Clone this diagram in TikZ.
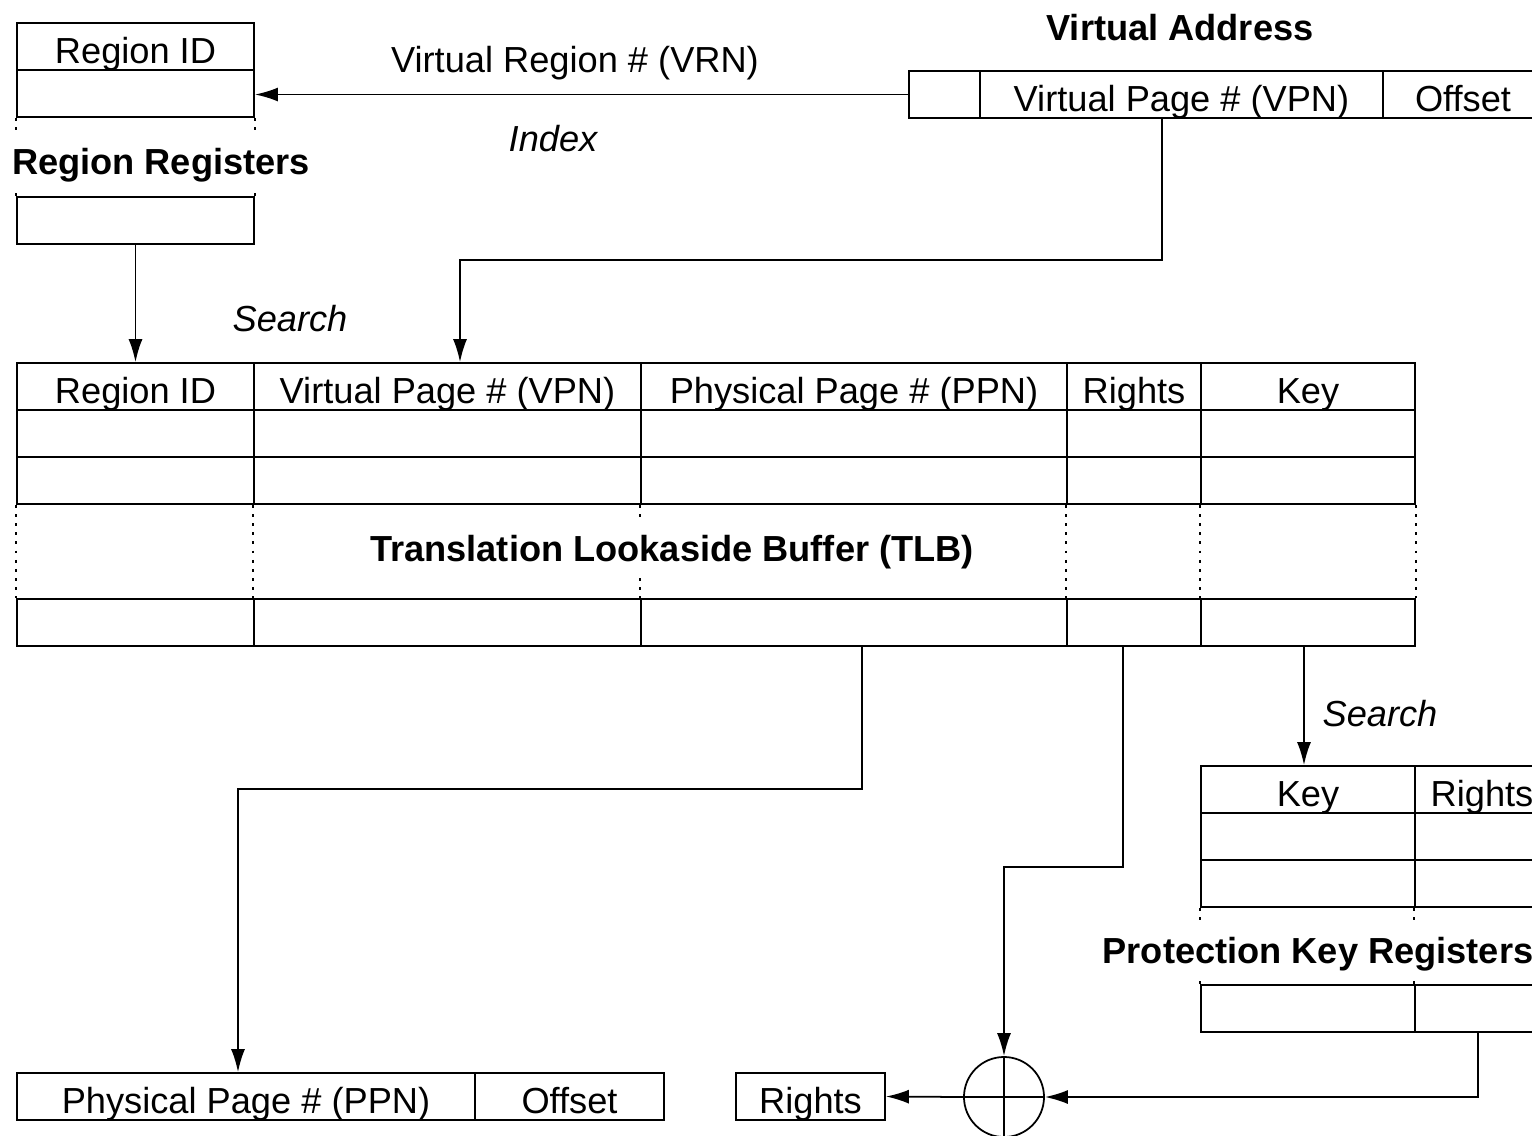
\documentclass[tikz,border=0pt]{standalone}
\usepackage{fontspec}
\setmainfont{Liberation Sans}
\usetikzlibrary{positioning,arrows.meta}

\begin{document}
\begin{tikzpicture}[
		x=0.01cm, y=-0.01cm
		,line width=.5pt
		,font=\fontsize{10.3}{12}\selectfont
		,cell/.style={draw, rectangle, inner sep=0pt, minimum height=4.7mm, text height=3.3mm, text depth=0pt}
		,title/.style={font=\fontsize{10.3}{12}\selectfont\bfseries, inner sep=1pt, text height=2.6mm, text depth=0pt}
		,note/.style={font=\fontsize{10.3}{12}\selectfont\itshape, inner sep=0pt, text height=2.6mm, text depth=0pt}
		,label/.style={inner sep=0pt, text height=2.6mm, text depth=0pt}
		,gap/.style={dash pattern=on .8pt off 1.8pt}
		,arr/.style={-{Latex[length=2.3mm, width=1.4mm]}}
	]
		\useasboundingbox (0,0) rectangle (1532,1135);

		% region registers
		\node[cell, minimum width=2.37cm] (rrh) at (135.5,46.5) {Region ID};
		\node[cell, minimum width=2.37cm] (rra) at (135.5,93.5) {};
		\node[cell, minimum width=2.37cm] (rrz) at (135.5,220.5) {};
		\draw[gap] (rra.south west) -- ++(0,16) (rra.south east) -- ++(0,16);
		\draw[gap] (rrz.north west) -- ++(0,-6) (rrz.north east) -- ++(0,-6);
		\node[title] (rrlabel) at (161,161) {Region Registers};

		% virtual address
		\node[cell, minimum width=0.71cm] (vrn) at (944.5,94.5) {};
		\node[cell, minimum width=4.03cm] (vpn) at (1181.5,94.5) {Virtual Page \# (VPN)};
		\node[cell, minimum width=1.60cm] (voff) at (1463,94.5) {Offset};
		\node[title] (valabel) at (1180,27) {Virtual Address};

		% TLB
		\foreach \c/\x/\w/\t in {rid/135.5/2.37/Region ID, vpn/447.5/3.87/Virtual Page \# (VPN),
				ppn/854/4.26/Physical Page \# (PPN), rights/1134/1.34/Rights, key/1308/2.14/Key} {
			\node[cell, minimum width=\w cm] (t\c h) at (\x,386.5) {\t};
			\foreach \r/\y in {a/433.5, b/480.5, z/622.5}
				\node[cell, minimum width=\w cm] (t\c\r) at (\x,\y) {};
			\draw[gap] (t\c b.south west) -- (t\c z.north west);
		}
		\draw[gap] (tkeyb.south east) -- (tkeyz.north east);
		\node[title, fill=white, inner ysep=4pt] (tlblabel) at (672,548) {Translation Lookaside Buffer (TLB)};

		% protection key registers
		\foreach \c/\x/\w/\t in {key/1308/2.14/Key, rights/1482/1.34/Rights} {
			\node[cell, minimum width=\w cm] (p\c h) at (\x,789.5) {\t};
			\foreach \r/\y in {a/836.5, b/883.5, z/1008.5}
				\node[cell, minimum width=\w cm] (p\c\r) at (\x,\y) {};
			\draw[gap] (p\c b.south west) -- ++(0,15);
			\draw[gap] (p\c z.north west) -- ++(0,-6);
		}
		\node[title] (pkrlabel) at (1318,950) {Protection Key Registers};

		% outputs
		\node[cell, minimum width=4.58cm] (pppn) at (246,1096.5) {Physical Page \# (PPN)};
		\node[cell, minimum width=1.89cm] (poff) at (569.5,1096.5) {Offset};
		\node[cell, minimum width=1.49cm] (rout) at (810.5,1096.5) {Rights};
		\node[draw, circle, minimum size=8mm, inner sep=0pt] (xor) at (1004,1097) {};
		\draw (xor.north) -- (xor.south) (xor.west) -- (xor.east);

		% connectors
		\draw[arr] (vrn.west) -- (vrn.west -| rra.east);
		\node[label] (vrnlabel) at (575,59) {Virtual Region \# (VRN)};
		\node[note] (indexlabel) at (553,138) {Index};

		\coordinate (vpnbend) at (460,260);
		\draw[arr] ([xshift=-1.95mm]vpn.south) |- (vpnbend) -- ([xshift=1.25mm]tvpnh.north);
		\draw[arr] (rrz.south) -- (tridh.north);
		\node[note] (searchtlb) at (290,318) {Search};

		\coordinate (ppnbend) at (238,789);
		\draw[arr] ([xshift=0.8mm]tppnz.south) |- (ppnbend) -- ([xshift=-0.8mm]pppn.north);
		\coordinate (rightsbend) at (1004,867);
		\draw[arr] ([xshift=-1.1mm]trightsz.south) |- (rightsbend) -- (xor.north);
		\draw[arr] ([xshift=-0.4mm]tkeyz.south) -- ([xshift=-0.4mm]pkeyh.north);
		\node[note] (searchpkr) at (1380,713) {Search};

		\draw[arr] ([xshift=-0.4mm]prightsz.south) |- (xor.east);
		\draw[arr] (xor.west) -- (rout.east);
	\end{tikzpicture}
\end{document}
